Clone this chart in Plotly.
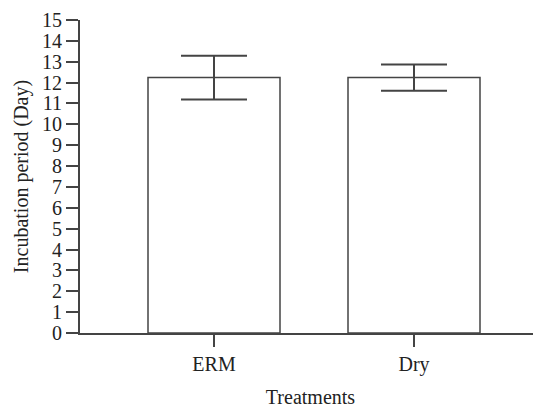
import plotly.graph_objects as go

categories = ["ERM", "Dry"]
means = [12.24, 12.24]
errors = [1.05, 0.63]
y_ticks = list(range(0, 16))

line_col = "#444444"
font_family = "Liberation Serif, Times New Roman, serif"

fig = go.Figure()
fig.add_trace(go.Bar(
    x=categories,
    y=means,
    width=0.66,
    marker=dict(color="white", line=dict(color=line_col, width=1.5)),
    error_y=dict(type="data", array=errors, visible=True,
                 color=line_col, thickness=2, width=33),
    showlegend=False,
))

# the page body adds an 8px offset, so the figure is sized to fit the window
fig.update_layout(
    width=533, height=400,
    margin=dict(l=72, r=0, t=12, b=75, pad=0),
    plot_bgcolor="white", paper_bgcolor="white",
    font=dict(family=font_family, size=20, color="#222222"),
    xaxis=dict(
        range=[-0.67, 1.635],
        automargin=False,
        showline=True, linecolor=line_col, linewidth=2,
        ticks="outside", ticklen=12, tickwidth=2, tickcolor=line_col,
        showgrid=False, zeroline=False,
        title=dict(text="Treatments", standoff=18,
                   font=dict(family=font_family, size=20)),
        tickfont=dict(family=font_family, size=20),
    ),
    yaxis=dict(
        range=[0, 15],
        automargin=False,
        tickvals=y_ticks,
        showline=True, linecolor=line_col, linewidth=2,
        ticks="outside", ticklen=12, tickwidth=2, tickcolor=line_col,
        showgrid=False, zeroline=False,
        title=dict(text="Incubation period (Day)", standoff=8,
                   font=dict(family=font_family, size=20)),
        tickfont=dict(family=font_family, size=20),
    ),
)

fig.write_html("out.html")
